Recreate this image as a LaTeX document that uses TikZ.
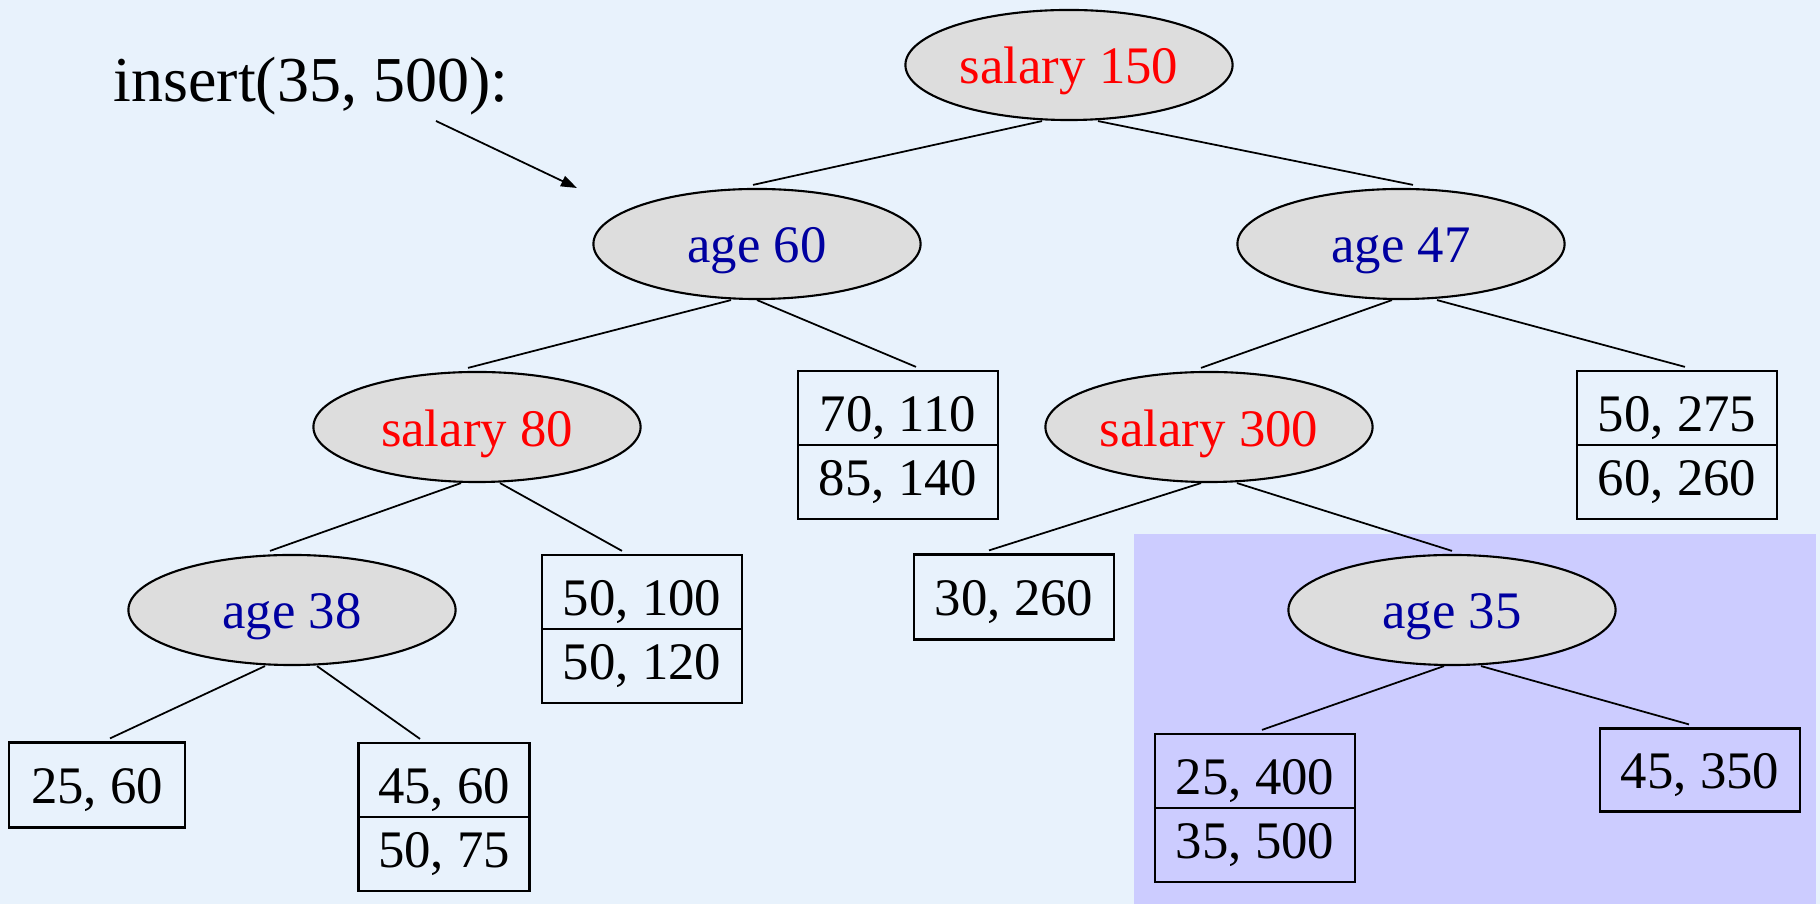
\documentclass[tikz,border=0pt]{standalone}
\usepackage{fontspec}
\setmainfont{Liberation Serif}
\usetikzlibrary{arrows.meta,calc,shapes.geometric}
\definecolor{bgblue}{RGB}{232,242,252}
\definecolor{hilite}{RGB}{204,204,255}
\definecolor{knode}{RGB}{221,221,221}
\definecolor{agecol}{RGB}{0,0,160}
\definecolor{salcol}{RGB}{255,0,0}

\tikzset{
  splitnode/.style={ellipse, draw, fill=knode, line width=0.6pt,
    minimum width=3.27cm, minimum height=1.1cm, inner sep=0pt,
    text height=0.38cm, text depth=0pt,
    font=\fontsize{15}{18.2}\selectfont},
  agenode/.style={splitnode, text=agecol},
  salnode/.style={splitnode, text=salcol},
  leafbase/.style={draw, line width=0.6pt, minimum width=2cm,
    inner sep=0pt, font=\fontsize{15}{18.2}\selectfont},
  bucket/.style={leafbase, minimum height=0.85cm, text height=0.36cm, text depth=0pt},
  bucketpair/.style={leafbase, minimum height=1.48cm, align=center},
  edge/.style={line width=0.5pt}
}

\begin{document}
\begin{tikzpicture}[x=0.01cm, y=-0.01cm]
  \fill[bgblue] (0,0) rectangle (1820,904);
  \useasboundingbox (0,0) rectangle (1820,904);
  \fill[hilite] (1134,534) rectangle (1816,904);

  % split nodes
  \node[salnode] (s150) at (1069,65)  {salary 150};
  \node[agenode] (a60)  at (757,244)  {age 60};
  \node[agenode] (a47)  at (1401,244) {age 47};
  \node[salnode] (s80)  at (477,427)  {salary 80};
  \node[salnode] (s300) at (1209,427) {salary 300};
  \node[agenode] (a38)  at (292,610)  {age 38};
  \node[agenode] (a35)  at (1452,610) {age 35};

  % buckets
  \node[bucketpair] (b70)  at (898,445)  {\strut 70, 110\\85, 140};
  \node[bucketpair] (b275) at (1677,445) {\strut 50, 275\\60, 260};
  \node[bucketpair] (b100) at (642,629)  {\strut 50, 100\\50, 120};
  \node[bucket]     (b260) at (1014,597) {30, 260};
  \node[bucket, minimum width=1.76cm] (b60) at (97,785) {25, 60};
  \node[bucketpair, minimum width=1.71cm] (b45) at (444,817) {\strut 45, 60\\50, 75};
  \node[bucketpair] (b400) at (1255,808) {\strut 25, 400\\35, 500};
  \node[bucket, minimum height=0.83cm] (b350) at (1700,770) {45, 350};
  \foreach \b in {b70,b275,b100,b45,b400}
    \draw[line width=0.6pt] (\b.west) -- (\b.east);

  % edges
  \foreach \p/\dp/\c/\dc in {s150/-27/a60/-4, s150/29/a47/12,
      a60/-26/s80/-9, a60/0/b70/18, a47/-9/s300/-8, a47/36/b275/8,
      s80/-16/a38/-22, s80/23/b100/-20, s300/-8/b260/-25, s300/28/a35/0,
      a38/-27/b60/13, a38/25/b45/-24, a35/-8/b400/7, a35/29/b350/-11}
    \draw[edge] ($(\p.south)+(\dp,0)$) -- ($(\c.north)+(\dc,-3)$);

  % insert label
  \node[anchor=base west, inner sep=0pt, font=\fontsize{18.2}{22}\selectfont] (ins) at (113,102) {insert(35, 500):};
  \coordinate (arrS) at (436,121);
  \coordinate (arrE) at (577,188);
  \draw[edge, -{Triangle[length=0.16cm, width=0.11cm]}] (arrS) -- (arrE);
\end{tikzpicture}
\end{document}
